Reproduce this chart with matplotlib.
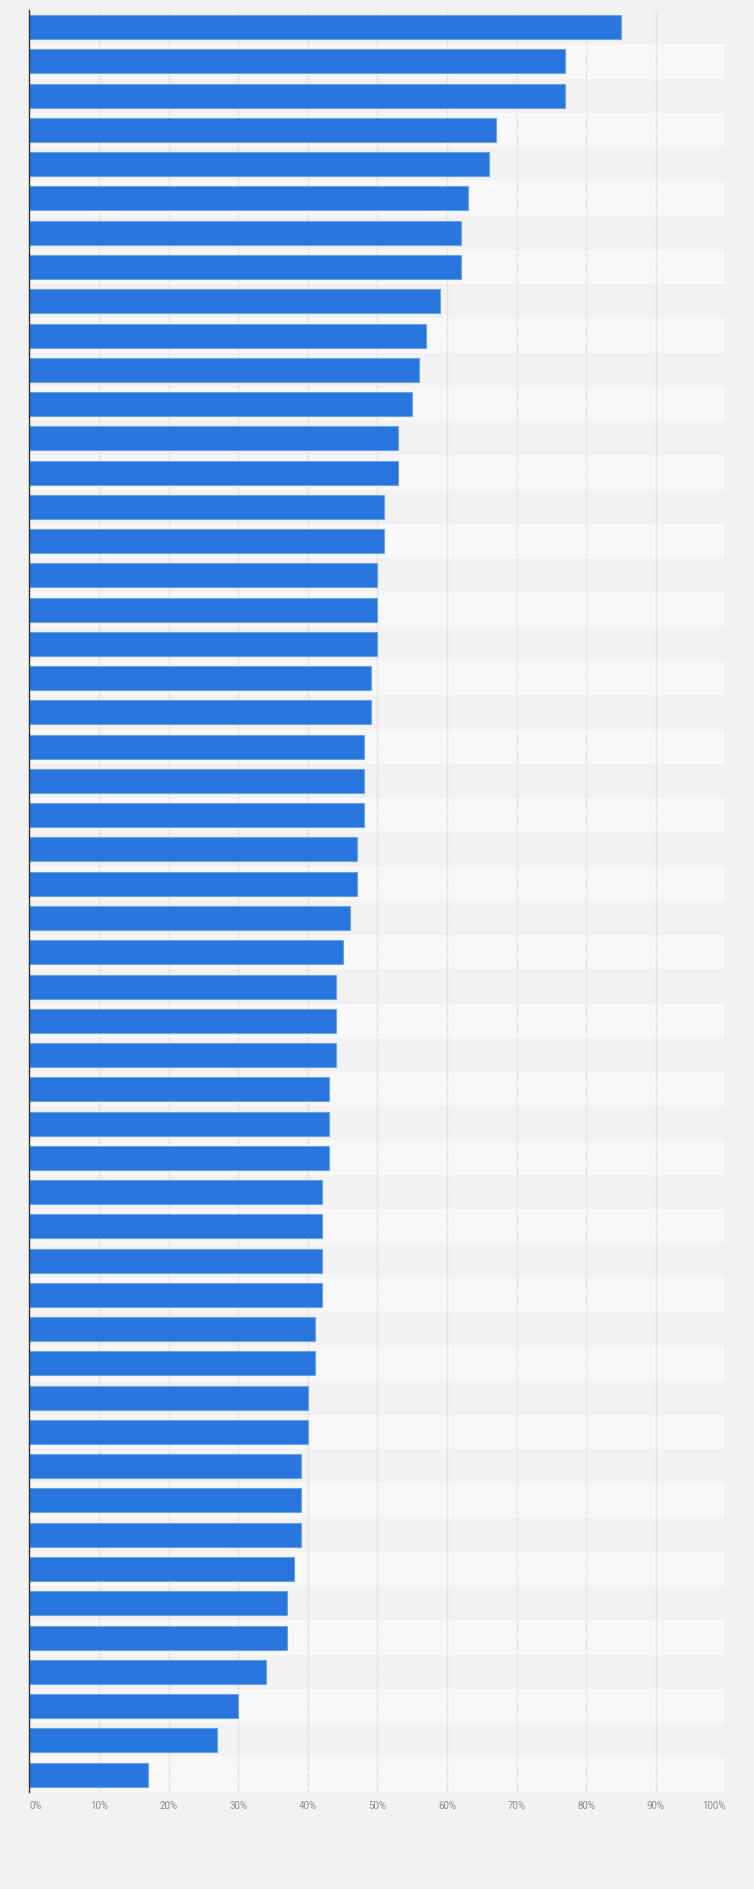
import numpy as np
import matplotlib
matplotlib.use("Agg")
import matplotlib.pyplot as plt

# share of respondents per row, top to bottom (no category labels shown)
values = [85, 77, 77, 67, 66, 63, 62, 62, 59, 57, 56, 55, 53, 53, 51, 51,
          50, 50, 50, 49, 49, 48, 48, 48, 47, 47, 46, 45, 44, 44, 44, 43,
          43, 43, 42, 42, 42, 42, 41, 41, 40, 40, 39, 39, 39, 38, 37, 37,
          34, 30, 27, 17]
x_ticks = [0, 10, 20, 30, 40, 50, 60, 70, 80, 90, 100]
x_labels = [f"{t}%" for t in x_ticks]

BG = '#f2f2f2'
BAND_DARK = '#f2f2f2'
BAND_LIGHT = '#f8f8f8'
BAR = '#2876dd'
BAR_EDGE = '#6aa2ea'

fig = plt.figure(figsize=(7.54, 18.89), dpi=100)
fig.patch.set_facecolor(BG)
ax = fig.add_axes([0.0391, 0.0515, 0.9231, 0.9432])
ax.set_facecolor(BG)

n = len(values)
y = np.arange(n)

# alternating row bands
for i in range(n):
    ax.axhspan(i - 0.5, i + 0.5, color=BAND_DARK if i % 2 == 0 else BAND_LIGHT,
               lw=0, zorder=0)

# vertical gridlines
for t in x_ticks[1:]:
    ax.axvline(t, color='#dcdcdc', lw=1, ls=(0, (1.5, 0.8)), zorder=1)

ax.barh(y, values, height=0.70, color=BAR, edgecolor=BAR_EDGE, linewidth=0.8,
        zorder=3)

ax.set_xlim(0, 100)
ax.set_ylim(n - 0.5, -0.5)
ax.set_yticks([])

ax.set_xticks(x_ticks)
ax.set_xticklabels(x_labels, fontsize=7, color='#8a8a8a', family=['Roboto', 'DejaVu Sans'])
ax.tick_params(axis='x', length=0, pad=7)
labels = ax.get_xticklabels()
labels[0].set_horizontalalignment('left')
labels[-1].set_horizontalalignment('right')

for side in ['top', 'right', 'bottom']:
    ax.spines[side].set_visible(False)
ax.spines['left'].set_color('#333333')
ax.spines['left'].set_linewidth(1)
ax.spines['left'].set_zorder(4)

fig.savefig('out.png', dpi=100, facecolor=BG)
